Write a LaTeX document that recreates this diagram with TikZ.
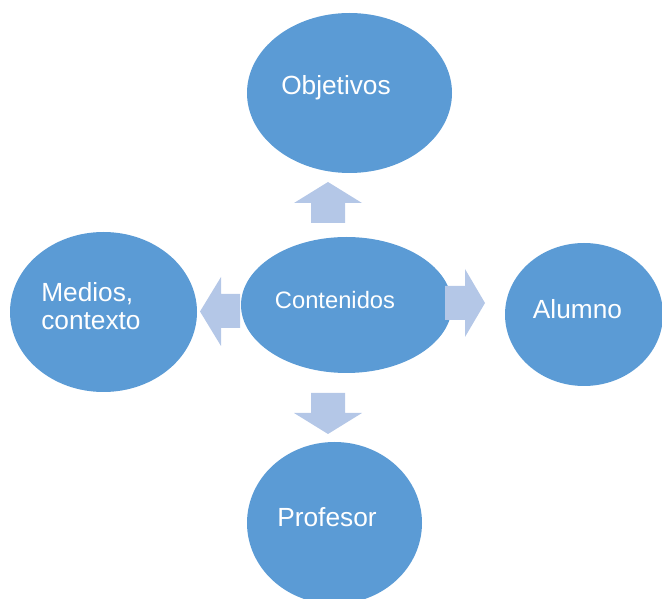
\documentclass[tikz,border=0pt]{standalone}
\usepackage{fontspec}
\setmainfont{Liberation Sans}
\usetikzlibrary{shapes.geometric}
\definecolor{bubble}{HTML}{5B9BD5}
\definecolor{flow}{HTML}{B4C7E7}
\begin{document}
\begin{tikzpicture}[x=0.75pt,y=-0.75pt,
  bubble/.style={ellipse,fill=bubble,draw=none,inner sep=0pt},
  label/.style={text=white,inner sep=0pt,font=\fontsize{19.7}{21}\selectfont},
  smalllabel/.style={label,font=\fontsize{17.8}{20}\selectfont},
  blockarrow/.style={fill=flow,draw=none}]
\useasboundingbox (0,0) rectangle (662,599);
\clip (0,0) rectangle (662,599);
% ellipses
\node[bubble,minimum width=205pt*0.75,minimum height=160pt*0.75] (obj) at (349.5,93) {};
\node[bubble,minimum width=211pt*0.75,minimum height=136pt*0.75] (cont) at (346.5,305) {};
\node[bubble,minimum width=158pt*0.75,minimum height=143pt*0.75] (alu) at (584,314.5) {};
\node[bubble,minimum width=187pt*0.75,minimum height=160pt*0.75] (med) at (103.5,312) {};
\node[bubble,minimum width=175pt*0.75,minimum height=162pt*0.75] (prof) at (334.5,523) {};
% labels
\node[label] (objT) at (336,88) {Objetivos};
\node[smalllabel] (contT) at (335,300) {Contenidos};
\node[label] (aluT) at (577.5,309) {Alumno};
\node[label] (profT) at (327,517) {Profesor};
\node[label,align=left,anchor=west] (medT) at (41,306) {Medios,\\contexto};
% block arrows leaving the central ellipse
\fill[blockarrow] (328,182) -- (362,203) -- (345,203) -- (345,223) -- (311,223) -- (311,203) -- (294,203) -- cycle;
\fill[blockarrow] (311,393) -- (345,393) -- (345,413) -- (362,413) -- (328,434) -- (294,413) -- (311,413) -- cycle;
\fill[blockarrow] (200,311.5) -- (221,277) -- (221,294) -- (240,294) -- (240,328) -- (221,328) -- (221,346) -- cycle;
\fill[blockarrow] (445,286) -- (465,286) -- (465,269) -- (485,303) -- (465,337) -- (465,320) -- (445,320) -- cycle;
\end{tikzpicture}
\end{document}
